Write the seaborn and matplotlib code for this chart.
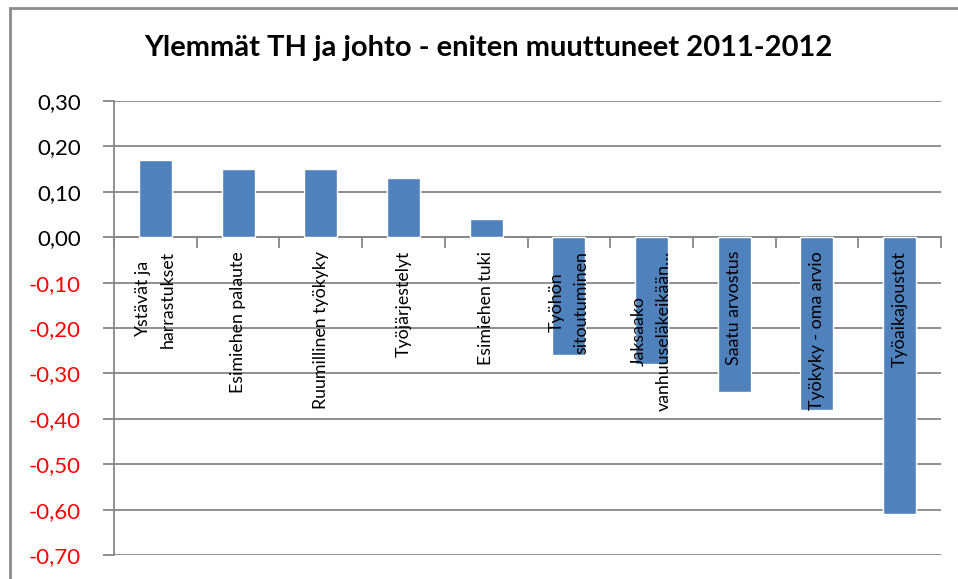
import matplotlib
matplotlib.use('Agg')
import matplotlib.pyplot as plt
import matplotlib.patches as mpatches
import seaborn as sns
import pandas as pd

categories = ['Ystävät ja\nharrastukset', 'Esimiehen palaute', 'Ruumillinen työkyky',
              'Työjärjestelyt', 'Esimiehen tuki', 'Työhön\nsitoutuminen',
              'Jaksaako\nvanhuuseläkeikään…', 'Saatu arvostus', 'Työkyky - oma arvio',
              'Työaikajoustot']
values = [0.17, 0.15, 0.15, 0.13, 0.04, -0.26, -0.28, -0.34, -0.38, -0.61]
yticks = [0.30, 0.20, 0.10, 0.00, -0.10, -0.20, -0.30, -0.40, -0.50, -0.60, -0.70]
title = 'Ylemmät TH ja johto - eniten muuttuneet 2011-2012'

sns.set_style('white')
plt.rcParams['font.family'] = ['Lato', 'DejaVu Sans']
plt.rcParams['text.color'] = 'black'

df = pd.DataFrame({'cat': categories, 'val': values})
grid_col = '#878787'

fig = plt.figure(figsize=(9.58, 5.79), dpi=100)
ax = fig.add_axes([114 / 958, 24 / 579, 827 / 958, 454 / 579])

sns.barplot(data=df, x='cat', y='val', color='#4F81BD', saturation=1, width=0.4, ax=ax, zorder=3)

ax.set_ylim(-0.70, 0.30)
ax.set_xlim(-0.5, len(categories) - 0.5)
ax.set_yticks(yticks)
ax.set_yticklabels([f'{v:.2f}'.replace('.', ',') for v in yticks], fontsize=16)
for lab, v in zip(ax.get_yticklabels(), yticks):
    lab.set_color('red' if v < 0 else 'black')
ax.yaxis.grid(True, color=grid_col, linewidth=1.3, zorder=0)
ax.tick_params(axis='y', direction='out', length=8, width=1.3, color=grid_col, pad=16, left=True)

# category axis sits on zero, ticks at boundaries
ax.spines['bottom'].set_position(('data', 0))
ax.spines['bottom'].set_color(grid_col)
ax.spines['bottom'].set_linewidth(1.3)
ax.spines['left'].set_color(grid_col)
ax.spines['left'].set_linewidth(1.3)
ax.spines['top'].set_visible(False)
ax.spines['right'].set_visible(False)
ax.set_xticks([i - 0.5 for i in range(len(categories) + 1)])
ax.set_xticklabels([])
ax.tick_params(axis='x', direction='out', length=8, width=1.3, color=grid_col, bottom=True)
ax.set_xlabel('')
ax.set_ylabel('')

for i, c in enumerate(categories):
    ax.text(i, -0.03, c, rotation=90, ha='center', va='top', multialignment='center',
            fontsize=12.8, color='black', zorder=4, linespacing=1.65)

fig.text(0.51, 0.917, title, ha='center', va='center', fontsize=21, fontweight='bold', color='black')

border = mpatches.Rectangle((10 / 958, -0.05), 1.2, 1.05 - 8 / 579, transform=fig.transFigure,
                            fill=False, edgecolor='#8c8c8c', linewidth=2)
fig.patches.append(border)

fig.savefig('out.png', dpi=100)
